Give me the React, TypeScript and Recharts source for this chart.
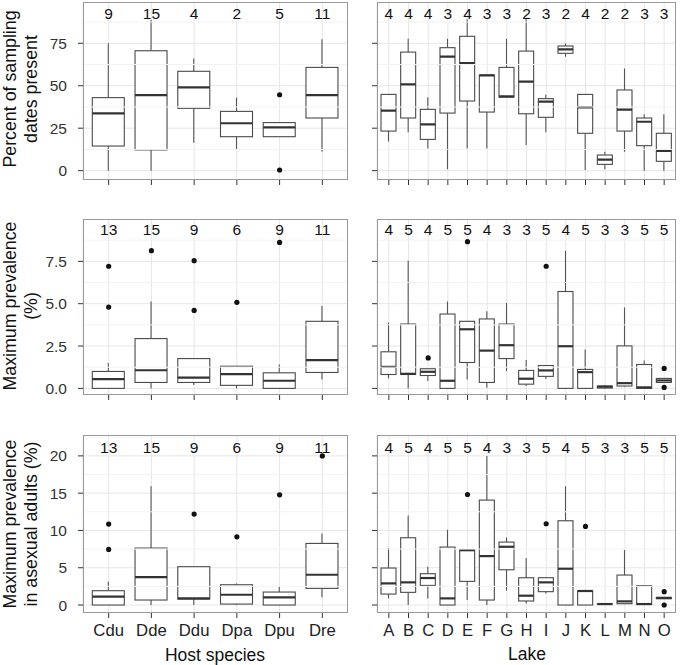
import { JSX } from 'react'
import { ComposedChart, Bar, Scatter, XAxis, YAxis, CartesianGrid, ReferenceLine } from 'recharts'

// categories
const hostCats = ['Cdu', 'Dde', 'Ddu', 'Dpa', 'Dpu', 'Dre']
const lakeCats = ['A', 'B', 'C', 'D', 'E', 'F', 'G', 'H', 'I', 'J', 'K', 'L', 'M', 'N', 'O']

// box stats: [lower whisker, q1, median, q3, upper whisker]
const presenceHost = [
  [0, 14.5, 33.7, 43, 75],
  [0, 12.2, 44.5, 70.6, 88.7],
  [16.5, 36.7, 49, 58.5, 66.1],
  [12.6, 20, 27.9, 34.9, 43],
  [20, 20, 25.5, 28.3, 28.6],
  [11.2, 31, 44.5, 60.8, 77.3]
]
const presenceHostN = [9, 15, 4, 2, 5, 11]
const presenceHostOut: [string, number][] = [['Dpu', 44.7], ['Dpu', 0.4]]

const presenceLake = [
  [17.1, 23.3, 35.3, 44.9, 44.9],
  [22.6, 31, 50.8, 69.8, 77.7],
  [13.1, 18.4, 27.3, 36.1, 43.2],
  [0.8, 33.9, 67.1, 72.4, 77.7],
  [13.1, 41, 63.4, 79.1, 89.1],
  [13.1, 34.5, 56.1, 56.3, 56.3],
  [43.2, 43.2, 43.8, 60.8, 77.7],
  [15.1, 33.5, 52.4, 70.4, 89.1],
  [22.6, 31.4, 40.6, 42.4, 44.7],
  [67.1, 69.1, 71.4, 73.4, 74.9],
  [0.4, 22, 37.3, 44.9, 44.9],
  [0.8, 3.7, 6.5, 9.2, 11.2],
  [11.2, 23.3, 35.9, 47.5, 60.2],
  [0, 14.7, 28.8, 31, 33.2],
  [0, 5.5, 11.6, 22, 33.2]
]
const presenceLakeN = [4, 4, 4, 3, 4, 3, 3, 2, 3, 2, 4, 2, 2, 3, 3]
const presenceLakeOut: [string, number][] = []

const prevHost = [
  [0, 0, 0.55, 1.0, 1.5],
  [0, 0.35, 1.07, 2.94, 5.13],
  [0.2, 0.35, 0.63, 1.76, 1.76],
  [0, 0.18, 0.84, 1.31, 1.31],
  [0, 0, 0.45, 0.92, 1.41],
  [0.53, 0.94, 1.67, 3.96, 4.86]
]
const prevHostN = [13, 15, 9, 6, 9, 11]
const prevHostOut: [string, number][] = [
  ['Cdu', 4.8], ['Cdu', 7.21], ['Dde', 8.13], ['Ddu', 4.6], ['Ddu', 7.54], ['Dpa', 5.08], ['Dpu', 8.62]
]

const prevLake = [
  [0.59, 0.82, 1.27, 2.16, 3.88],
  [0, 0.82, 0.86, 3.8, 7.54],
  [0.43, 0.76, 0.98, 1.16, 1.16],
  [0, 0, 0.45, 4.39, 5.13],
  [0.53, 1.53, 3.49, 3.96, 3.96],
  [0.04, 0.35, 2.23, 4.1, 4.55],
  [1.02, 1.76, 2.55, 3.8, 5.04],
  [0.14, 0.25, 0.57, 1.06, 1.67],
  [0.55, 0.71, 1.06, 1.35, 1.35],
  [0, 0, 2.49, 5.72, 8.13],
  [0, 0, 0.96, 1.12, 2.29],
  [0, 0.02, 0.1, 0.14, 0.18],
  [0.1, 0.14, 0.31, 2.51, 4.78],
  [0, 0, 0.06, 1.41, 1.65],
  [0.35, 0.35, 0.47, 0.59, 0.59]
]
const prevLakeN = [4, 5, 4, 5, 5, 4, 3, 3, 5, 4, 5, 3, 3, 5, 5]
const prevLakeOut: [string, number][] = [
  ['C', 1.8], ['E', 8.66], ['I', 7.21], ['O', 1.18], ['O', 0.06]
]

const asexHost = [
  [0, 0, 1.12, 1.92, 3.17],
  [0, 0.67, 3.75, 7.64, 15.94],
  [0, 0.8, 0.89, 5.14, 5.14],
  [0, 0.13, 1.38, 2.72, 2.9],
  [0, 0, 1.03, 1.74, 2.46],
  [1.03, 2.23, 4.06, 8.26, 9.6]
]
const asexHostN = [13, 15, 9, 6, 9, 11]
const asexHostOut: [string, number][] = [
  ['Cdu', 10.85], ['Cdu', 7.46], ['Ddu', 12.19], ['Dpa', 9.15], ['Dpu', 14.78], ['Dre', 20]
]

const asexLake = [
  [0.89, 1.47, 2.9, 4.96, 7.64],
  [0, 1.7, 3.04, 9.02, 12.01],
  [0.89, 2.63, 3.62, 4.2, 5.14],
  [0, 0, 0.89, 7.77, 10.09],
  [0.67, 3.17, 7.35, 7.41, 7.41],
  [0, 0.67, 6.56, 14.07, 20],
  [1.92, 4.73, 7.81, 8.44, 9.06],
  [0.22, 0.54, 1.25, 3.66, 6.3],
  [1.56, 1.79, 3.04, 3.66, 3.66],
  [0, 0, 4.87, 11.3, 15.94],
  [0, 0, 1.88, 1.92, 1.92],
  [0.09, 0.11, 0.13, 0.15, 0.17],
  [0.18, 0.18, 0.49, 4.02, 7.37],
  [0.09, 0.09, 0.13, 2.59, 2.59],
  [0.85, 0.85, 0.94, 1.03, 1.03]
]
const asexLakeN = [4, 5, 4, 5, 5, 4, 3, 3, 5, 4, 5, 3, 3, 5, 5]
const asexLakeOut: [string, number][] = [
  ['E', 14.82], ['I', 10.9], ['K', 10.54], ['O', 1.79], ['O', 0]
]

// y tick labels
const presenceTicks = [0, 25, 50, 75]
const prevTicks = [0, 2.5, 5, 7.5]
const asexTicks = [0, 5, 10, 15, 20]

const FONT = '"Liberation Sans", Arial, Helvetica, sans-serif'
const GRID = '#e6e6e6'
const MINOR = '#f3f3f3'

function buildRows(cats: string[], stats: number[][], counts: number[], outs: [string, number][]) {
  return cats.map((cat, i) => {
    const [lo, q1, med, q3, hi] = stats[i]
    const o = outs.filter((d) => d[0] === cat).map((d) => d[1])
    return { cat, range: [lo, hi], lo, q1, med, q3, hi, n: counts[i], out1: o[0] ?? null, out2: o[1] ?? null }
  })
}

function BoxShape(props: any): JSX.Element {
  const { x, y, width, height, payload } = props
  const top = Math.min(y, y + height)
  const bot = Math.max(y, y + height)
  const { lo, hi, q1, med, q3 } = payload
  const span = hi - lo
  const py = (v: number) => (span === 0 ? top : bot - ((v - lo) / span) * (bot - top))
  const cx = x + width / 2
  return (
    <g>
      <line x1={cx} x2={cx} y1={py(hi)} y2={py(q3)} stroke="#555" strokeWidth={1.1} />
      <line x1={cx} x2={cx} y1={py(q1)} y2={py(lo)} stroke="#555" strokeWidth={1.1} />
      <rect x={x} y={py(q3)} width={width} height={py(q1) - py(q3)} fill="#fff" stroke="#4a4a4a" strokeWidth={1.1} />
      <line x1={x} x2={x + width} y1={py(med)} y2={py(med)} stroke="#333" strokeWidth={2.2} />
    </g>
  )
}

const outShape = (key: string) => (props: any): JSX.Element => {
  if (props.payload[key] == null) return <g />
  return <circle cx={props.cx} cy={props.cy} r={2.6} fill="#111" />
}

function CountShape(props: any): JSX.Element {
  return (
    <text x={props.cx} y={props.cy} dy="0.36em" textAnchor="middle" fontSize={15.5} fill="#111" fontFamily={FONT}>
      {props.payload.n}
    </text>
  )
}

interface PanelProps {
  left: number
  top: number
  width: number
  plotHeight: number
  yWidth: number
  rows: any[]
  domain: [number, number]
  ticks: number[]
  minor: number[]
  fmt: (v: number) => string
  labelY: number
  xLabels: boolean
  yLabels: boolean
  boxWidth: number
  pad: number
}

function Panel(p: PanelProps): JSX.Element {
  const xh = p.xLabels ? 30 : 10
  return (
    <div style={{ position: 'absolute', left: p.left, top: p.top }}>
      <ComposedChart
        width={p.width}
        height={p.plotHeight + xh}
        data={p.rows}
        margin={{ top: 0, right: 0, bottom: 0, left: 0 }}
      >
        <CartesianGrid stroke={GRID} horizontalValues={p.ticks} />
        {p.minor.map((m) => (
          <ReferenceLine key={m} y={m} stroke={MINOR} />
        ))}
        <XAxis
          dataKey="cat"
          height={xh}
          axisLine={false}
          tickSize={5}
          tickMargin={6}
          tickLine={{ stroke: '#333' }}
          padding={{ left: p.pad, right: p.pad }}
          interval={0}
          tick={{ fontSize: 16.7, fill: '#222', fontFamily: FONT }}
          tickFormatter={p.xLabels ? (v: string) => v : () => ''}
        />
        <YAxis
          type="number"
          width={p.yWidth}
          domain={p.domain}
          allowDataOverflow
          ticks={p.ticks}
          axisLine={false}
          tickSize={5}
          tickMargin={11}
          tickLine={{ stroke: '#333' }}
          tick={{ fontSize: 15.5, fill: '#333', fontFamily: FONT }}
          tickFormatter={p.yLabels ? p.fmt : () => ''}
        />
        <Bar dataKey="range" barSize={p.boxWidth} shape={BoxShape} isAnimationActive={false} />
        <Scatter dataKey="out1" shape={outShape('out1')} isAnimationActive={false} />
        <Scatter dataKey="out2" shape={outShape('out2')} isAnimationActive={false} />
        <Scatter dataKey={() => p.labelY} shape={CountShape} isAnimationActive={false} />
      </ComposedChart>
      <div
        style={{
          position: 'absolute',
          left: p.yWidth - 0.5,
          top: -0.5,
          width: p.width - p.yWidth,
          height: p.plotHeight,
          border: '1px solid #9a9a9a',
          boxSizing: 'border-box',
          pointerEvents: 'none'
        }}
      />
    </div>
  )
}

export default function App(): JSX.Element {
  const presHostRows = buildRows(hostCats, presenceHost, presenceHostN, presenceHostOut)
  const presLakeRows = buildRows(lakeCats, presenceLake, presenceLakeN, presenceLakeOut)
  const prevHostRows = buildRows(hostCats, prevHost, prevHostN, prevHostOut)
  const prevLakeRows = buildRows(lakeCats, prevLake, prevLakeN, prevLakeOut)
  const asexHostRows = buildRows(hostCats, asexHost, asexHostN, asexHostOut)
  const asexLakeRows = buildRows(lakeCats, asexLake, asexLakeN, asexLakeOut)

  const intFmt = (v: number) => String(v)
  const decFmt = (v: number) => v.toFixed(1)

  const leftCol = { left: 43, width: 305, yWidth: 40, boxWidth: 32, pad: 4.3, yLabels: true }
  const rightCol = { left: 357, width: 319, yWidth: 20, boxWidth: 15, pad: 2, yLabels: false }
  const row1 = { top: 2, plotHeight: 178, domain: [-5.5, 99.3] as [number, number], ticks: presenceTicks, minor: [12.5, 37.5, 62.5, 87.5], fmt: intFmt, labelY: 92.8, xLabels: false }
  const row2 = { top: 219, plotHeight: 176, domain: [-0.39, 10.0] as [number, number], ticks: prevTicks, minor: [1.25, 3.75, 6.25, 8.75], fmt: decFmt, labelY: 9.38, xLabels: false }
  const row3 = { top: 435, plotHeight: 178, domain: [-1.07, 22.8] as [number, number], ticks: asexTicks, minor: [2.5, 7.5, 12.5, 17.5, 22.5], fmt: intFmt, labelY: 21.1, xLabels: true }

  return (
    <div style={{ position: 'absolute', left: 0, top: 0, width: 680, height: 665, background: '#fff', fontFamily: FONT }}>
      <Panel {...leftCol} {...row1} rows={presHostRows} />
      <Panel {...rightCol} {...row1} rows={presLakeRows} />
      <Panel {...leftCol} {...row2} rows={prevHostRows} />
      <Panel {...rightCol} {...row2} rows={prevLakeRows} />
      <Panel {...leftCol} {...row3} rows={asexHostRows} />
      <Panel {...rightCol} {...row3} rows={asexLakeRows} />

      <svg width={680} height={665} style={{ position: 'absolute', left: 0, top: 0, pointerEvents: 'none' }}>
        <g fontFamily={FONT} fontSize={17.8} fill="#111" textAnchor="middle">
          <text transform="translate(15.5,89) rotate(-90)">Percent of sampling</text>
          <text transform="translate(37,89) rotate(-90)">dates present</text>
          <text transform="translate(15.5,306) rotate(-90)">Maximum prevalence</text>
          <text transform="translate(37,306) rotate(-90)">(%)</text>
          <text transform="translate(15.5,524) rotate(-90)">Maximum prevalence</text>
          <text transform="translate(37,524) rotate(-90)">in asexual adults (%)</text>
        </g>
        <g fontFamily={FONT} fontSize={17.5} fill="#111" textAnchor="middle">
          <text x={215} y={660.5}>Host species</text>
          <text x={527} y={660}>Lake</text>
        </g>
      </svg>
    </div>
  )
}
